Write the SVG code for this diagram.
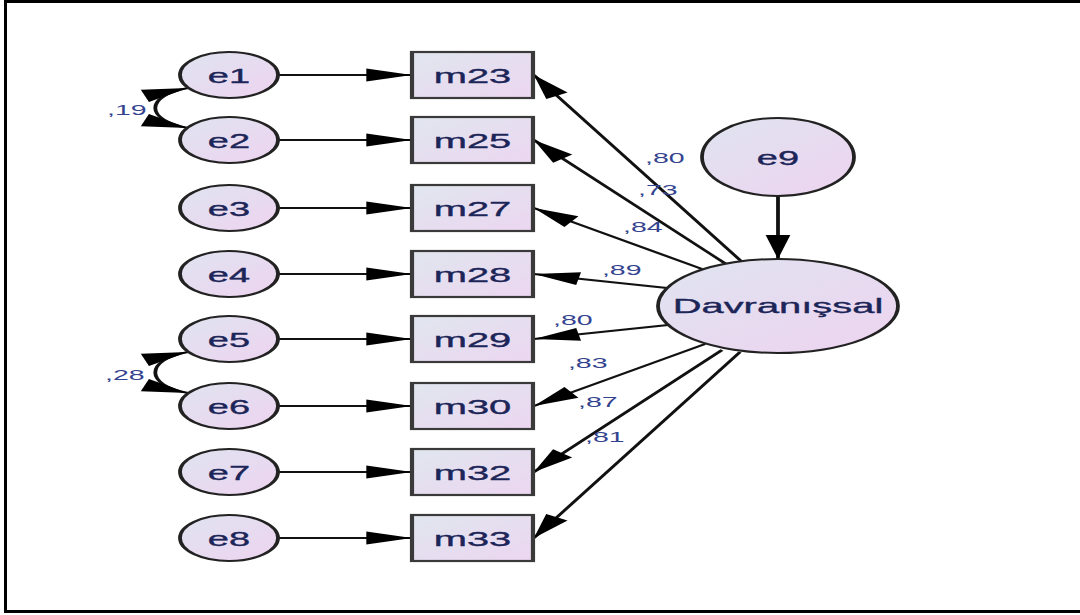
<svg xmlns="http://www.w3.org/2000/svg" width="1080" height="615" viewBox="0 0 1080 615">
<defs>
<linearGradient id="gE" x1="0" y1="0" x2="1" y2="1">
<stop offset="0" stop-color="#dfe4f0"/>
<stop offset="1" stop-color="#eed3f0"/>
</linearGradient>
<linearGradient id="gB" x1="0" y1="0" x2="1" y2="1">
<stop offset="0" stop-color="#e0e6ee"/>
<stop offset="1" stop-color="#ecd6f1"/>
</linearGradient>
<marker id="ah" markerUnits="userSpaceOnUse" viewBox="-24 -6.5 25 13" markerWidth="25" markerHeight="13" refX="0" refY="0" orient="auto-start-reverse" overflow="visible">
<path d="M0,0 L-24,-6.5 L-24,6.5 Z" fill="#000"/>
</marker>
</defs>
<style>
.ell{fill:url(#gE);stroke:#222;stroke-width:2}
.box{fill:url(#gB);stroke:#3a3a3a;stroke-width:2.2}
.nt{font-family:"Liberation Sans",Arial,sans-serif;font-size:21px;fill:#1c2558;stroke:#1c2558;stroke-width:0.35;text-anchor:middle}
.et{font-family:"Liberation Sans",Arial,sans-serif;font-size:20px;fill:#1c2558;stroke:#1c2558;stroke-width:0.35;text-anchor:middle}
.lb{font-family:"Liberation Sans",Arial,sans-serif;font-size:15px;fill:#34438f}
.c{stroke:#111;stroke-width:2;fill:none;marker-end:url(#ah)}
.cv{stroke:#111;stroke-width:2;fill:none;marker-start:url(#ah);marker-end:url(#ah)}
</style>
<rect x="0" y="0" width="1080" height="615" fill="#fff"/>
<path d="M1080,1.5 H5.5 V611.5 H1080" fill="none" stroke="#000" stroke-width="3"/>
<g transform="scale(1.9,1)">
<g id="connectors">
<line class="c" x1="146.3" y1="75" x2="216.8" y2="75"/>
<line class="c" x1="146.3" y1="140" x2="216.8" y2="140"/>
<line class="c" x1="146.3" y1="208" x2="216.8" y2="208"/>
<line class="c" x1="146.3" y1="274" x2="216.8" y2="274"/>
<line class="c" x1="146.3" y1="339" x2="216.8" y2="339"/>
<line class="c" x1="146.3" y1="406" x2="216.8" y2="406"/>
<line class="c" x1="146.3" y1="472" x2="216.8" y2="472"/>
<line class="c" x1="146.3" y1="538" x2="216.8" y2="538"/>
<line class="c" x1="390.0" y1="261" x2="281" y2="75"/>
<line class="c" x1="382.1" y1="264" x2="281" y2="140"/>
<line class="c" x1="369.5" y1="269" x2="281" y2="208"/>
<line class="c" x1="351.1" y1="288" x2="281" y2="274"/>
<line class="c" x1="351.6" y1="325" x2="281" y2="339"/>
<line class="c" x1="371.1" y1="344" x2="281" y2="406"/>
<line class="c" x1="380.0" y1="350" x2="281" y2="472"/>
<line class="c" x1="389.5" y1="352" x2="281" y2="538"/>
<line class="c" x1="409.47" y1="196" x2="409.47" y2="259"/>
<path class="cv" d="M98.9,88 C76,96 76,120 98.9,128"/>
<path class="cv" d="M98.9,352 C76,360 76,385 98.9,393"/>
<text class="lb" x="56.3" y="115">,19</text>
<text class="lb" x="55.3" y="380">,28</text>
<text class="lb" x="339.5" y="163">,80</text>
<text class="lb" x="335.8" y="195">,73</text>
<text class="lb" x="327.9" y="232">,84</text>
<text class="lb" x="316.8" y="275">,89</text>
<text class="lb" x="291.1" y="325">,80</text>
<text class="lb" x="298.9" y="368">,83</text>
<text class="lb" x="304.2" y="407">,87</text>
<text class="lb" x="307.9" y="442">,81</text>
</g>
<g id="e1"><ellipse class="ell" cx="120.53" cy="75" rx="25.8" ry="23"/><text class="et" x="120.53" y="83">e1</text></g>
<g id="e2"><ellipse class="ell" cx="120.53" cy="140" rx="25.8" ry="23"/><text class="et" x="120.53" y="148">e2</text></g>
<g id="e3"><ellipse class="ell" cx="120.53" cy="208" rx="25.8" ry="23"/><text class="et" x="120.53" y="216">e3</text></g>
<g id="e4"><ellipse class="ell" cx="120.53" cy="274" rx="25.8" ry="23"/><text class="et" x="120.53" y="282">e4</text></g>
<g id="e5"><ellipse class="ell" cx="120.53" cy="339" rx="25.8" ry="23"/><text class="et" x="120.53" y="347">e5</text></g>
<g id="e6"><ellipse class="ell" cx="120.53" cy="406" rx="25.8" ry="23"/><text class="et" x="120.53" y="414">e6</text></g>
<g id="e7"><ellipse class="ell" cx="120.53" cy="472" rx="25.8" ry="23"/><text class="et" x="120.53" y="480">e7</text></g>
<g id="e8"><ellipse class="ell" cx="120.53" cy="538" rx="25.8" ry="23"/><text class="et" x="120.53" y="546">e8</text></g>
<g id="m23"><rect class="box" x="216.84" y="52" width="63.68" height="46"/><text class="nt" x="248.68" y="83">m23</text></g>
<g id="m25"><rect class="box" x="216.84" y="117" width="63.68" height="46"/><text class="nt" x="248.68" y="148">m25</text></g>
<g id="m27"><rect class="box" x="216.84" y="185" width="63.68" height="46"/><text class="nt" x="248.68" y="216">m27</text></g>
<g id="m28"><rect class="box" x="216.84" y="251" width="63.68" height="46"/><text class="nt" x="248.68" y="282">m28</text></g>
<g id="m29"><rect class="box" x="216.84" y="316" width="63.68" height="46"/><text class="nt" x="248.68" y="347">m29</text></g>
<g id="m30"><rect class="box" x="216.84" y="383" width="63.68" height="46"/><text class="nt" x="248.68" y="414">m30</text></g>
<g id="m32"><rect class="box" x="216.84" y="449" width="63.68" height="46"/><text class="nt" x="248.68" y="480">m32</text></g>
<g id="m33"><rect class="box" x="216.84" y="515" width="63.68" height="46"/><text class="nt" x="248.68" y="546">m33</text></g>
<g id="e9"><ellipse class="ell" cx="409.47" cy="157" rx="40" ry="39"/><text class="et" x="409.47" y="165">e9</text></g>
<g id="Davranissal"><ellipse class="ell" cx="409.47" cy="306" rx="63.16" ry="47"/><text class="nt" x="409.47" y="313">Davranışsal</text></g>
</g>
</svg>
